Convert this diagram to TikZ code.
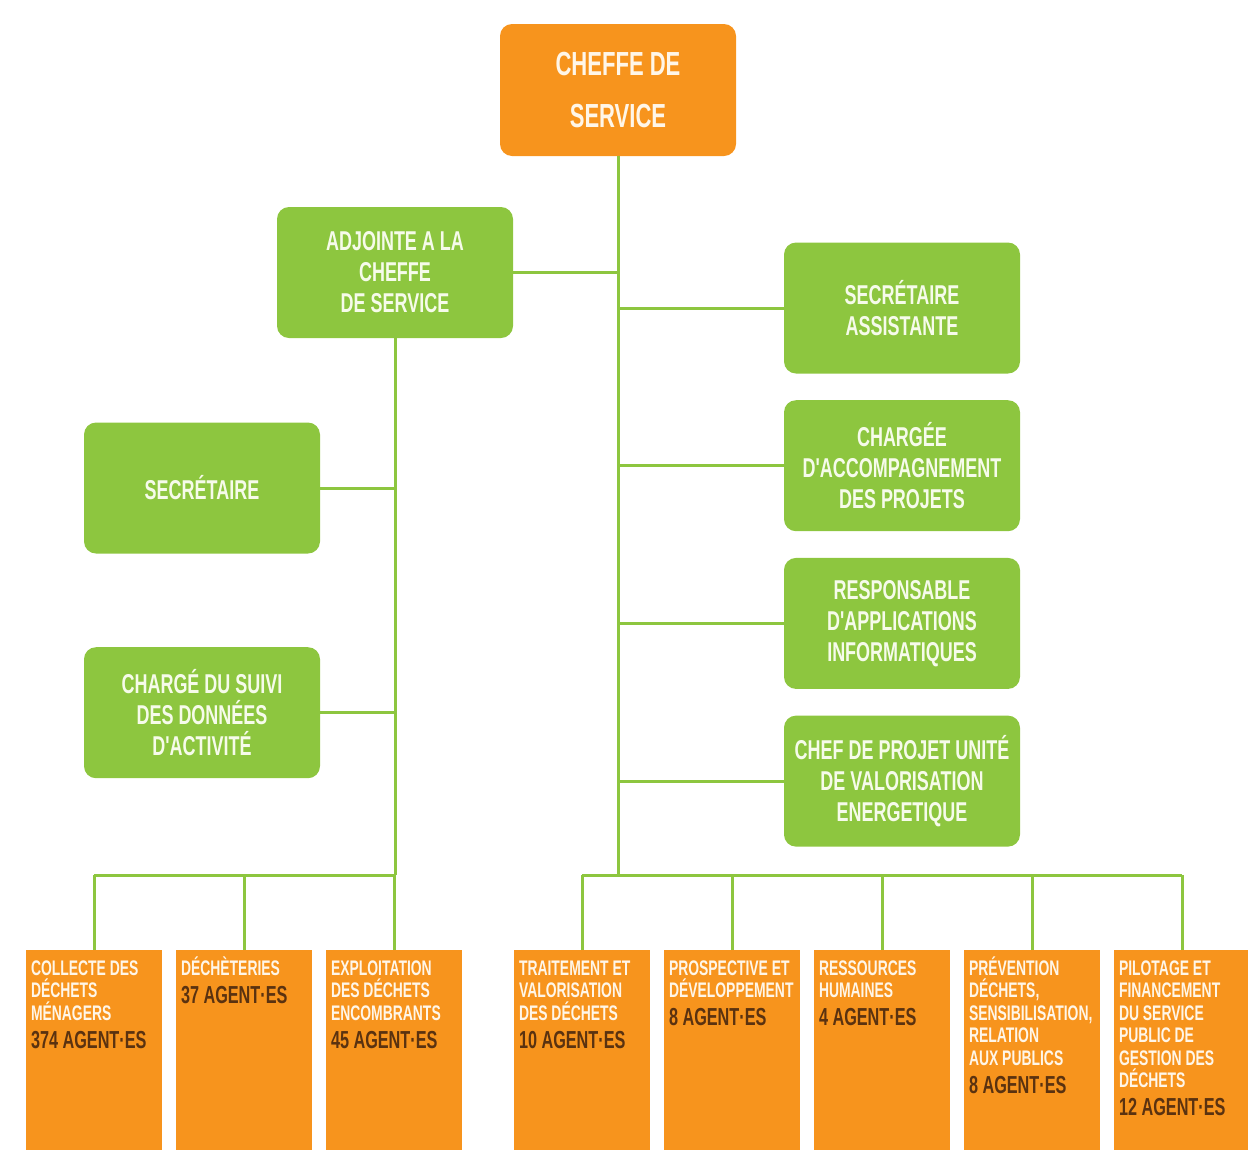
\documentclass[tikz,border=0pt]{standalone}
\usepackage{fontspec}
\newfontfamily\orgfont{Liberation Sans}[FakeStretch=0.66]
\usetikzlibrary{positioning}
\definecolor{orgorange}{HTML}{F7941D}
\definecolor{orggreen}{HTML}{8DC63F}
\definecolor{agentbrown}{HTML}{5A3210}
\definecolor{palecream}{HTML}{FFF6E8}
\definecolor{palegreen}{HTML}{F6FBEA}
\tikzset{head/.style={rounded corners=0.24cm, fill=orgorange, text=palecream, align=center,
    minimum width=4.72cm, minimum height=2.64cm, font=\orgfont\bfseries\fontsize{19}{29.5}\selectfont}}
\tikzset{unit/.style={rounded corners=0.24cm, fill=orggreen, text=palegreen, align=center,
    minimum width=4.72cm, minimum height=2.62cm, inner sep=2pt, font=\orgfont\bfseries\fontsize{15.5}{17.6}\selectfont}}
\tikzset{team/.style={fill=orgorange, minimum width=2.72cm, minimum height=4cm, anchor=north}}
\tikzset{teamtxt/.style={anchor=north west, align=left, inner sep=0pt, text=palecream,
    xshift=0.1cm, yshift=-0.08cm, font=\orgfont\bfseries\fontsize{12}{12.8}\selectfont}}
\tikzset{link/.style={draw=orggreen, line width=0.06cm}}
\newcommand{\capstrut}{\rule{0pt}{12pt}}
\newcommand{\agents}[1]{\\[3pt]{\color{agentbrown}\fontsize{14}{14}\selectfont #1 AGENT·ES}}

\begin{document}
\begin{tikzpicture}[node distance=3cm]
\useasboundingbox (0,0) rectangle (24.96,-23);

\node (chef) [head] at (12.36,-1.80) {CHEFFE DE\\SERVICE};
\node (adj) [unit] at (7.90,-5.45) {ADJOINTE A LA\\CHEFFE\\DE SERVICE};
\node (sec) [unit] at (4.04,-9.76) {SECRÉTAIRE};
\node (suivi) [unit, below=1.86 of sec] {CHARGÉ DU SUIVI\\DES DONNÉES\\D'ACTIVITÉ};

\node (assist) [unit] at (18.04,-6.16) {SECRÉTAIRE\\ASSISTANTE};
\node (accomp) [unit, below=0.52 of assist] {CHARGÉE\\D'ACCOMPAGNEMENT\\DES PROJETS};
\node (appli) [unit, below=0.52 of accomp] {RESPONSABLE\\D'APPLICATIONS\\INFORMATIQUES};
\node (uve) [unit, below=0.52 of appli] {CHEF DE PROJET UNITÉ\\DE VALORISATION\\ENERGETIQUE};

\coordinate (spine) at (12.36,-17.5);
\coordinate (adjspine) at (adj.south |- spine);

% pôles rattachés à l'adjointe
\node (collecte) [team] at (1.88,-19) {};
\node (decheteries) [team, right of=collecte] {};
\node (encombrants) [team, right of=decheteries] {};
% pôles rattachés à la cheffe
\node (traitement) [team] at (11.64,-19) {};
\node (prospective) [team, right of=traitement] {};
\node (rh) [team, right of=prospective] {};
\node (prevention) [team, right of=rh] {};
\node (pilotage) [team, right of=prevention] {};

\node (collecte-t) [teamtxt] at (collecte.north west) {\capstrut COLLECTE DES\\DÉCHETS\\MÉNAGERS\agents{374}};
\node (decheteries-t) [teamtxt] at (decheteries.north west) {\capstrut DÉCHÈTERIES\agents{37}};
\node (encombrants-t) [teamtxt] at (encombrants.north west) {\capstrut EXPLOITATION\\DES DÉCHETS\\ENCOMBRANTS\agents{45}};
\node (traitement-t) [teamtxt] at (traitement.north west) {\capstrut TRAITEMENT ET\\VALORISATION\\DES DÉCHETS\agents{10}};
\node (prospective-t) [teamtxt] at (prospective.north west) {\capstrut PROSPECTIVE ET\\DÉVELOPPEMENT\agents{8}};
\node (rh-t) [teamtxt] at (rh.north west) {\capstrut RESSOURCES\\HUMAINES\agents{4}};
\node (prevention-t) [teamtxt] at (prevention.north west) {\capstrut PRÉVENTION\\DÉCHETS,\\SENSIBILISATION,\\RELATION\\AUX PUBLICS\agents{8}};
\node (pilotage-t) [teamtxt] at (pilotage.north west) {\capstrut PILOTAGE ET\\FINANCEMENT\\DU SERVICE\\PUBLIC DE\\GESTION DES\\DÉCHETS\agents{12}};

\draw[link] (chef.south) -- (spine);
\draw[link] (adj.east) -- (adj.east -| spine);
\draw[link] (assist.west) -- (assist.west -| spine);
\draw[link] (accomp.west) -- (accomp.west -| spine);
\draw[link] (appli.west) -- (appli.west -| spine);
\draw[link] (uve.west) -- (uve.west -| spine);

\draw[link] (adj.south) -- (adjspine);
\draw[link] (sec.east) -- (sec.east -| adjspine);
\draw[link] (suivi.east) -- (suivi.east -| adjspine);

\draw[link] (collecte.north |- spine) -- (adjspine);
\draw[link] (traitement.north |- spine) -- (pilotage.north |- spine);
\foreach \t in {collecte,decheteries,encombrants,traitement,prospective,rh,prevention,pilotage}
  \draw[link] (\t.north |- spine) -- (\t.north);
\end{tikzpicture}
\end{document}
